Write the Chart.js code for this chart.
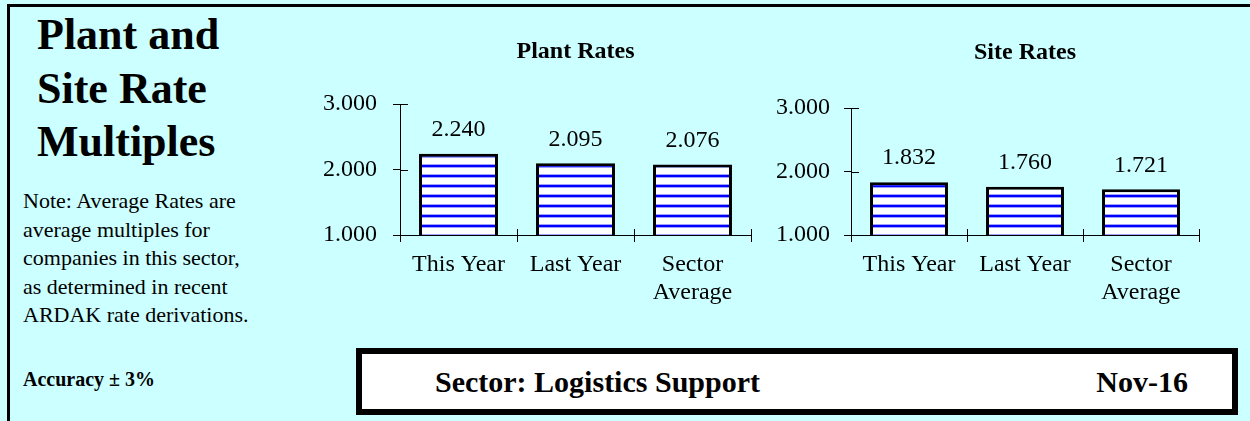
<!DOCTYPE html>
<html>
<head>
<meta charset="utf-8">
<script src="https://cdn.jsdelivr.net/npm/chart.js@4.4.1/dist/chart.umd.min.js"></script>
<style>
  html, body { margin: 0; padding: 0; }
  body {
    width: 1250px; height: 421px; overflow: hidden; position: relative;
    background: #ccffff;
    font-family: 'Liberation Serif', 'Times New Roman', serif;
    color: #000;
  }
  .frameTop { position: absolute; left: 7px; top: 4px; right: 0; height: 3px; background: #000; }
  .frameLeft { position: absolute; left: 7px; top: 4px; bottom: 0; width: 3px; background: #000; }
  .bigTitle { position: absolute; left: 37px; top: 8px; font-size: 44px; font-weight: bold; line-height: 53.5px; }
  .note { position: absolute; left: 23px; top: 187px; font-size: 22px; line-height: 28.5px; }
  .accuracy { position: absolute; left: 23px; top: 368px; font-size: 20px; font-weight: bold; }
  .sectorBox {
    position: absolute; left: 356px; top: 348px; width: 870px; height: 55px;
    border: 6px solid #000; background: #fff;
  }
  .sectorBox span { position: absolute; top: 11px; font-size: 30px; font-weight: bold; line-height: normal; }
  canvas { position: absolute; top: 0; }
</style>
</head>
<body>
<div class="frameTop"></div>
<div class="frameLeft"></div>
<div class="bigTitle">Plant and<br>Site Rate<br>Multiples</div>
<div class="note">Note: Average Rates are<br>average multiples for<br>companies in this sector,<br>as determined in recent<br>ARDAK rate derivations.</div>
<div class="accuracy">Accuracy ± 3%</div>
<div class="sectorBox">
  <span style="left:73px">Sector: Logistics Support</span>
  <span style="right:44px">Nov-16</span>
</div>
<canvas id="plantChart" width="470" height="340" style="left:300px"></canvas>
<canvas id="siteChart" width="470" height="340" style="left:740px"></canvas>
<script>
// 데이터
const categories = [['This Year'], ['Last Year'], ['Sector', 'Average']];
const plantRates = [2.240, 2.095, 2.076];
const siteRates = [1.832, 1.760, 1.721];
const yMin = 1;
const yMax = 3;
const yStep = 1;

const fontFamily = "'Liberation Serif', 'Times New Roman', serif";

// 가로 줄무늬 패턴 (흰 바탕 + 파란 줄)
function makeStripes() {
  const c = document.createElement('canvas');
  c.width = 8;
  c.height = 10;
  const g = c.getContext('2d');
  g.fillStyle = '#ffffff';
  g.fillRect(0, 0, 8, 10);
  g.fillStyle = 'rgba(160, 160, 255, 1)';
  g.fillRect(0, 4, 8, 1);
  g.fillRect(0, 7, 8, 1);
  g.fillStyle = '#0000ff';
  g.fillRect(0, 5, 8, 2);
  return g.createPattern(c, 'repeat');
}

// 축을 가로지르는 눈금 + 막대 위 값
const axisExtras = {
  id: 'axisExtras',
  afterDraw: (chart) => {
    const ctx = chart.ctx;
    const x = chart.scales.x;
    const y = chart.scales.y;
    ctx.save();
    ctx.strokeStyle = '#000';
    ctx.lineWidth = 1;
    // y축 눈금 안쪽 부분
    y.ticks.forEach((t) => {
      const py = Math.round(y.getPixelForValue(t.value)) + 0.5;
      ctx.beginPath();
      ctx.moveTo(y.right, py);
      ctx.lineTo(y.right + 8, py);
      ctx.stroke();
    });
    // x축 눈금 안쪽 부분 (카테고리 경계)
    const n = chart.data.labels.length;
    const step = x.width / n;
    for (let i = 1; i <= n; i++) {
      const px = Math.round(x.left + i * step) + 0.5;
      ctx.beginPath();
      ctx.moveTo(px, x.top);
      ctx.lineTo(px, x.top - 6);
      ctx.stroke();
    }
    // 값 라벨
    ctx.fillStyle = '#000';
    ctx.font = '24px ' + fontFamily;
    ctx.textAlign = 'center';
    ctx.textBaseline = 'middle';
    const ds = chart.data.datasets[0];
    chart.getDatasetMeta(0).data.forEach((bar, i) => {
      ctx.fillText(ds.data[i].toFixed(3), bar.x, bar.y - 24);
    });
    ctx.restore();
  }
};

function makeChart(id, title, values, opt) {
  const ctx = document.getElementById(id).getContext('2d');
  return new Chart(ctx, {
    type: 'bar',
    data: {
      labels: categories,
      datasets: [{
        data: values,
        backgroundColor: makeStripes(),
        borderColor: '#000',
        borderWidth: 3,
        borderSkipped: false,
        categoryPercentage: 1,
        barPercentage: opt.barPct,
      }],
    },
    options: {
      responsive: false,
      animation: false,
      devicePixelRatio: 1,
      layout: { padding: { left: 0, right: opt.padRight, top: 0, bottom: 0 } },
      plugins: {
        legend: { display: false },
        tooltip: { enabled: false },
        title: {
          display: true,
          text: title,
          fullSize: false,
          color: '#000',
          font: { family: fontFamily, size: 24, weight: 'bold', lineHeight: 1.2 },
          padding: { top: opt.titleTop, bottom: opt.titleBottom },
        },
      },
      scales: {
        x: {
          grid: { drawOnChartArea: false, tickLength: 7, color: '#000', offset: true },
          border: { color: '#000', width: 1 },
          ticks: {
            color: '#000',
            padding: 9,
            maxRotation: 0,
            autoSkip: false,
            font: { family: fontFamily, size: 24, lineHeight: 1.15 },
          },
          afterFit: (s) => { s.height = 105; },
        },
        y: {
          min: yMin,
          max: yMax,
          grid: { drawOnChartArea: false, tickLength: 7, color: '#000' },
          border: { color: '#000', width: 1 },
          ticks: {
            stepSize: yStep,
            color: '#000',
            padding: opt.tickPad,
            font: { family: fontFamily, size: 24 },
            callback: (v) => Number(v).toFixed(3),
          },
          afterFit: (s) => { s.width = opt.yWidth; },
        },
      },
    },
    plugins: [axisExtras],
  });
}

makeChart('plantChart', 'Plant Rates', plantRates,
  { barPct: 0.675, padRight: 19, yWidth: 100, tickPad: 16, titleTop: 37.6, titleBottom: 37.6 });
makeChart('siteChart', 'Site Rates', siteRates,
  { barPct: 0.672, padRight: 11, yWidth: 111, tickPad: 14, titleTop: 38.6, titleBottom: 40.6 });
</script>
</body>
</html>
